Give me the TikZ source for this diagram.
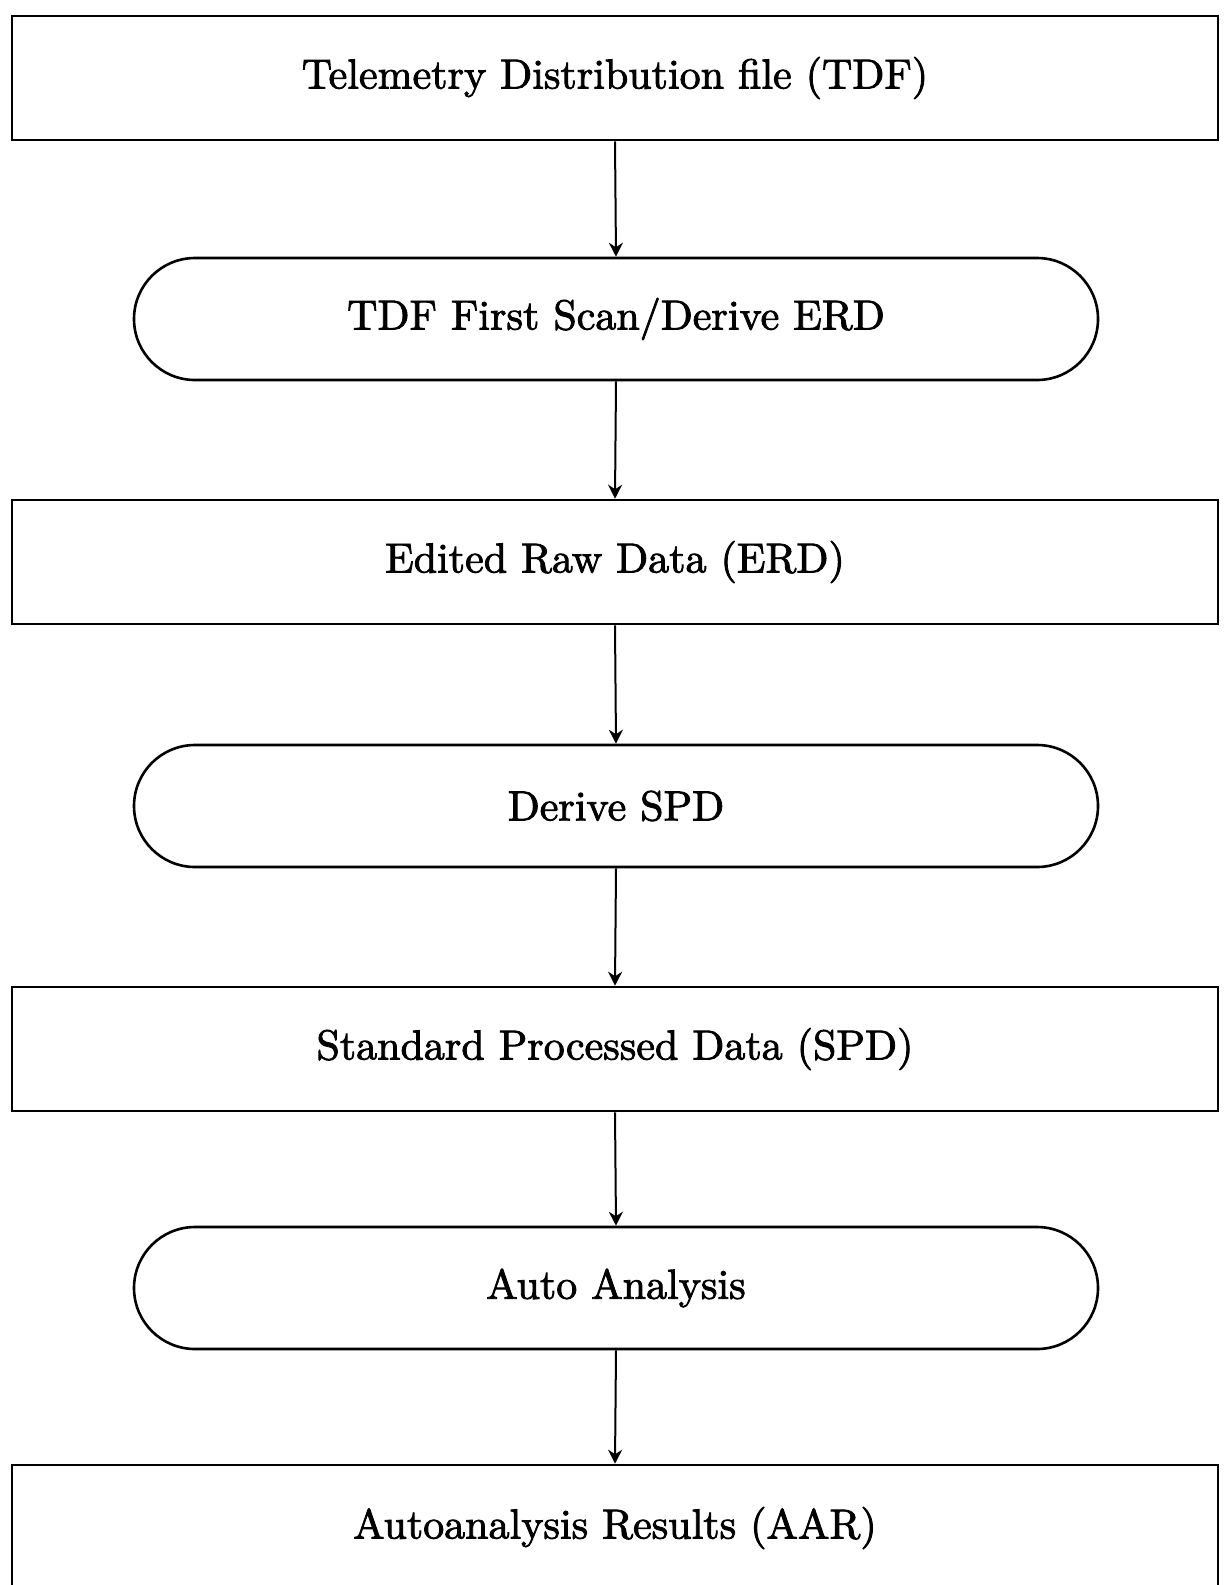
\documentclass[tikz,border=0pt]{standalone}
\usetikzlibrary{arrows.meta,shapes.misc}
% Latin Modern Roman, slightly emboldened, for the box labels
\font\heavyrm="[lmroman10-regular]:embolden=2" at 21pt
\begin{document}
\begin{tikzpicture}[x=0.5pt,y=-0.5pt,
  label font/.style={font=\heavyrm},
  box/.style={draw,line width=1.3pt,rectangle,minimum width=603pt,minimum height=62pt,
    inner sep=0pt,label font},
  pill/.style={draw,line width=1.3pt,rounded rectangle,rounded rectangle arc length=180,
    minimum width=482pt,minimum height=61pt,inner sep=0pt,label font},
  flow/.style={line width=1pt,-{Stealth[length=7pt,width=7pt]}}]
\useasboundingbox (0,0) rectangle (1225,1585);
\clip (0,0) rectangle (1225,1585);
\node[box]  (tdf)  at (615,78)   {Telemetry Distribution file (TDF)};
\node[pill] (scan) at (616,319)  {TDF First Scan/Derive ERD};
\node[box]  (erd)  at (615,562)  {Edited Raw Data (ERD)};
\node[pill] (dspd) at (616,806)  {Derive SPD};
\node[box]  (spd)  at (615,1049) {Standard Processed Data (SPD)};
\node[pill] (auto) at (616,1288) {Auto Analysis};
\node[box,minimum height=66pt]  (aar)  at (615,1531) {};
\node[label font] (aartext) at (615,1528) {Autoanalysis Results (AAR)};
\draw[flow] (tdf.south) -- (scan.north);
\draw[flow] (scan.south) -- (erd.north);
\draw[flow] (erd.south) -- (dspd.north);
\draw[flow] (dspd.south) -- (spd.north);
\draw[flow] (spd.south) -- (auto.north);
\draw[flow] (auto.south) -- (aar.north);
\end{tikzpicture}
\end{document}
